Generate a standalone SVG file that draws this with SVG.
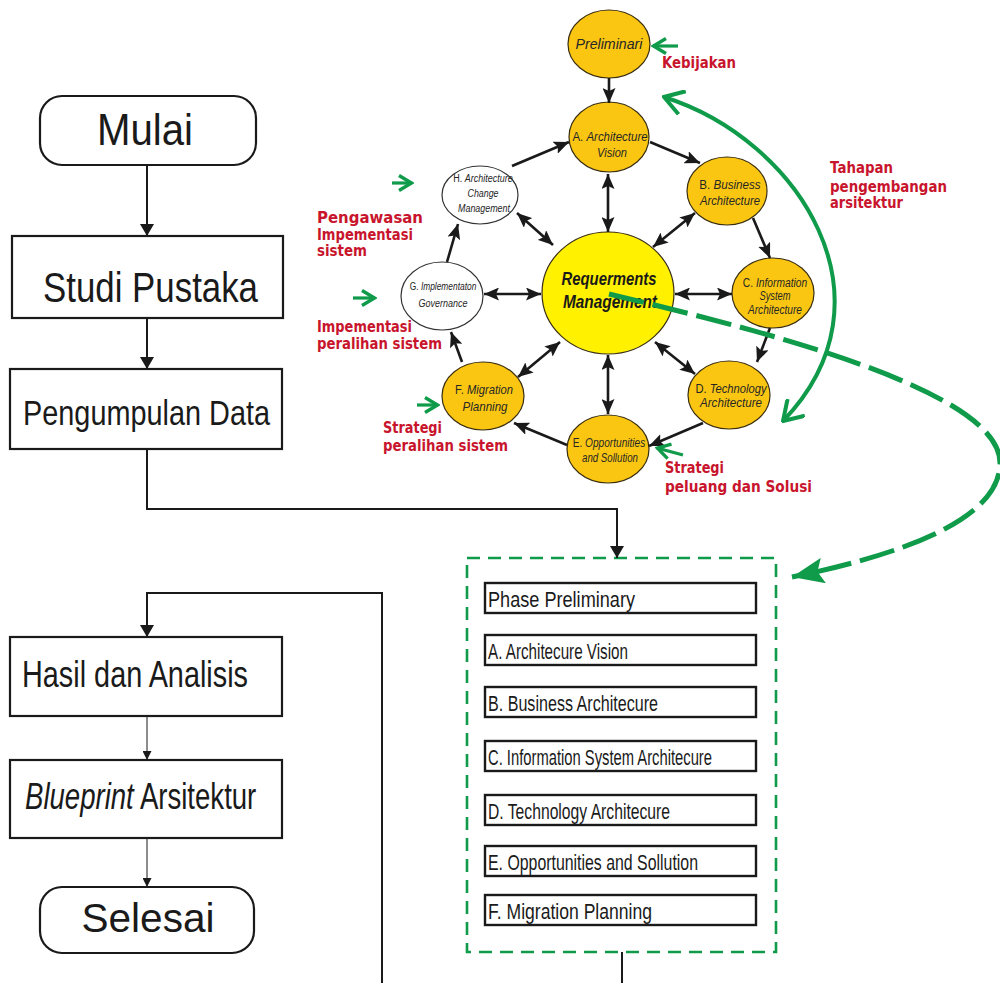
<svg xmlns="http://www.w3.org/2000/svg" width="1000" height="983" viewBox="0 0 1000 983">
  <style>
    .box { fill: #ffffff; stroke: #1a1a1a; stroke-width: 2.2; }
    .big { font-family: "Liberation Sans", Arial, sans-serif; fill: #1a1a1a; }
    .item { fill: #ffffff; stroke: #1a1a1a; stroke-width: 2.4; }
    .itemtxt { font-family: "Liberation Sans", Arial, sans-serif; font-size: 22px; fill: #1a1a1a; }
    .gold { fill: #fbc612; stroke: #3a2e10; stroke-width: 1.2; }
    .core { fill: #fff100; stroke: #3a2e10; stroke-width: 1.2; }
    .white { fill: #ffffff; stroke: #333333; stroke-width: 1.2; }
    .ntxt { font-family: "Liberation Sans", Arial, sans-serif; fill: #262626; text-anchor: middle; }
    .n13 { font-size: 13.5px; }
    .n12 { font-size: 12.5px; }
    .n11 { font-size: 11.5px; }
    .n14 { font-size: 14.5px; }
    .coretxt { font-size: 19px; font-weight: bold; fill: #1a1a1a; }
    .it { font-style: italic; }
    .red { font-family: "DejaVu Sans", "Liberation Sans", sans-serif; font-weight: bold; font-size: 15.5px; fill: #c8142c; }
    .flow { fill: none; stroke: #1a1a1a; stroke-width: 2; }
    .thin { fill: none; stroke: #1a1a1a; stroke-width: 1; }
    .ring { fill: none; stroke: #1a1a1a; stroke-width: 2.6; }
    .gsm { fill: none; stroke: #0f9b4a; stroke-width: 3.2; }
  </style>
  <defs>
    <marker id="tri" viewBox="0 0 12 14" refX="12" refY="7" markerWidth="12" markerHeight="14" markerUnits="userSpaceOnUse" orient="auto">
      <path d="M0,0 L12,7 L0,14 z" fill="#1a1a1a"/>
    </marker>
    <marker id="triS" viewBox="0 0 10 10" refX="10" refY="5" markerWidth="10" markerHeight="9" markerUnits="userSpaceOnUse" orient="auto">
      <path d="M0,0 L10,5 L0,10 z" fill="#1a1a1a"/>
    </marker>
    <marker id="ah" viewBox="0 0 15 13" refX="15" refY="6.5" markerWidth="15" markerHeight="13" markerUnits="userSpaceOnUse" orient="auto-start-reverse">
      <path d="M0,0 L15,6.5 L0,13 L3,6.5 z" fill="#1a1a1a"/>
    </marker>
    <marker id="chev" viewBox="0 0 16 18" refX="14" refY="9" markerWidth="16" markerHeight="18" markerUnits="userSpaceOnUse" orient="auto">
      <path d="M1,1.5 L13.5,9 L1,16.5" fill="none" stroke="#0f9b4a" stroke-width="3.4"/>
    </marker>
    <marker id="chevBig" viewBox="0 0 22 26" refX="20" refY="13" markerWidth="22" markerHeight="26" markerUnits="userSpaceOnUse" orient="auto-start-reverse">
      <path d="M1,1 L20,13 L1,25" fill="none" stroke="#0f9b4a" stroke-width="4"/>
    </marker>
    <marker id="gtri" viewBox="0 0 32 26" refX="32" refY="13" markerWidth="32" markerHeight="26" markerUnits="userSpaceOnUse" orient="auto">
      <path d="M0,0 L32,13 L0,26 L6,13 z" fill="#0f9b4a"/>
    </marker>
  </defs>

  <rect width="1000" height="983" fill="#ffffff"/>

  <!-- research flow, left column -->
  <g id="mulai">
    <rect class="box" x="40" y="96" width="216" height="69" rx="22"/>
    <text class="big" x="145" y="145" font-size="44" text-anchor="middle" textLength="96" lengthAdjust="spacingAndGlyphs">Mulai</text>
  </g>
  <g id="studi-pustaka">
    <rect class="box" x="12" y="236" width="271" height="82"/>
    <text class="big" x="43" y="302" font-size="42" textLength="215" lengthAdjust="spacingAndGlyphs">Studi Pustaka</text>
  </g>
  <g id="pengumpulan-data">
    <rect class="box" x="10" y="369" width="272" height="80"/>
    <text class="big" x="23" y="425" font-size="35" textLength="247" lengthAdjust="spacingAndGlyphs">Pengumpulan Data</text>
  </g>
  <g id="hasil-analisis">
    <rect class="box" x="10" y="637" width="272" height="79"/>
    <text class="big" x="22" y="687" font-size="37" textLength="226" lengthAdjust="spacingAndGlyphs">Hasil dan Analisis</text>
  </g>
  <g id="blueprint">
    <rect class="box" x="10" y="760" width="272" height="78"/>
    <text class="big" transform="translate(25,809) scale(0.766,1)" x="0" y="0" font-size="36"><tspan font-style="italic">Blueprint</tspan> Arsitektur</text>
  </g>
  <g id="selesai">
    <rect class="box" x="40" y="887" width="214" height="66" rx="22"/>
    <text class="big" x="148" y="932" font-size="40" text-anchor="middle" textLength="133" lengthAdjust="spacingAndGlyphs">Selesai</text>
  </g>

  <!-- architecture phases list -->
  <g id="phase-list">
    <rect x="467" y="558" width="309" height="394" fill="none" stroke="#0f9b4a" stroke-width="2.6" stroke-dasharray="13 8"/>
    <rect class="item" x="485" y="583" width="271" height="30"/>
    <text class="itemtxt" x="488" y="607" textLength="147" lengthAdjust="spacingAndGlyphs">Phase Preliminary</text>
    <rect class="item" x="485" y="635" width="271" height="30"/>
    <text class="itemtxt" x="488" y="659" textLength="140" lengthAdjust="spacingAndGlyphs">A. Architecure Vision</text>
    <rect class="item" x="485" y="687" width="271" height="30"/>
    <text class="itemtxt" x="488" y="711" textLength="170" lengthAdjust="spacingAndGlyphs">B. Business Architecure</text>
    <rect class="item" x="485" y="741" width="271" height="30"/>
    <text class="itemtxt" x="488" y="765" textLength="224" lengthAdjust="spacingAndGlyphs">C. Information System Architecure</text>
    <rect class="item" x="485" y="795" width="271" height="30"/>
    <text class="itemtxt" x="488" y="819" textLength="182" lengthAdjust="spacingAndGlyphs">D. Technology Architecure</text>
    <rect class="item" x="485" y="846" width="271" height="30"/>
    <text class="itemtxt" x="488" y="870" textLength="210" lengthAdjust="spacingAndGlyphs">E. Opportunities and Sollution</text>
    <rect class="item" x="485" y="895" width="271" height="30"/>
    <text class="itemtxt" x="488" y="919" textLength="164" lengthAdjust="spacingAndGlyphs">F. Migration Planning</text>
  </g>

  <!-- ADM cycle nodes -->
  <g id="preliminari">
    <ellipse class="gold" cx="609" cy="44" rx="41" ry="34"/>
    <text class="ntxt n14 it" x="609" y="49" textLength="67" lengthAdjust="spacingAndGlyphs">Preliminari</text>
  </g>
  <g id="node-a">
    <ellipse class="gold" cx="609" cy="137" rx="40" ry="35"/>
    <text class="ntxt n13" transform="translate(610,141) scale(0.85,1)">A. <tspan class="it">Architecture</tspan></text>
    <text class="ntxt n13 it" x="612" y="157" textLength="30" lengthAdjust="spacingAndGlyphs">Vision</text>
  </g>
  <g id="node-b">
    <ellipse class="gold" cx="727" cy="191" rx="40" ry="34"/>
    <text class="ntxt n13" transform="translate(730,189) scale(0.86,1)">B. <tspan class="it">Business</tspan></text>
    <text class="ntxt n13 it" x="730" y="205" textLength="60" lengthAdjust="spacingAndGlyphs">Architecture</text>
  </g>
  <g id="node-c">
    <ellipse class="gold" cx="773" cy="293" rx="41" ry="35"/>
    <text class="ntxt n12" transform="translate(775,287) scale(0.82,1)">C. <tspan class="it">Information</tspan></text>
    <text class="ntxt n12 it" x="775" y="300" textLength="31" lengthAdjust="spacingAndGlyphs">System</text>
    <text class="ntxt n12 it" x="775" y="314" textLength="54" lengthAdjust="spacingAndGlyphs">Architecture</text>
  </g>
  <g id="node-d">
    <ellipse class="gold" cx="729" cy="395" rx="41" ry="34"/>
    <text class="ntxt n13" transform="translate(731,393) scale(0.83,1)">D. <tspan class="it">Technology</tspan></text>
    <text class="ntxt n13 it" x="731" y="407" textLength="62" lengthAdjust="spacingAndGlyphs">Architecture</text>
  </g>
  <g id="node-e">
    <ellipse class="gold" cx="608" cy="449" rx="41" ry="34"/>
    <text class="ntxt n12" transform="translate(609,447) scale(0.81,1)">E. <tspan class="it">Opportunities</tspan></text>
    <text class="ntxt n12 it" x="610" y="462" textLength="56" lengthAdjust="spacingAndGlyphs">and Sollution</text>
  </g>
  <g id="node-f">
    <ellipse class="gold" cx="483" cy="396" rx="41" ry="34"/>
    <text class="ntxt n13" transform="translate(484,394) scale(0.83,1)">F. <tspan class="it">Migration</tspan></text>
    <text class="ntxt n13 it" x="485" y="411" textLength="45" lengthAdjust="spacingAndGlyphs">Planning</text>
  </g>
  <g id="node-g">
    <ellipse class="white" cx="442" cy="296" rx="41" ry="34"/>
    <text class="ntxt n11" transform="translate(443,290) scale(0.73,1)">G. <tspan class="it">Implementaton</tspan></text>
    <text class="ntxt n11 it" x="443" y="307" textLength="49" lengthAdjust="spacingAndGlyphs">Governance</text>
  </g>
  <g id="node-h">
    <ellipse class="white" cx="480" cy="195" rx="38" ry="29"/>
    <text class="ntxt n11" transform="translate(483,182) scale(0.78,1)">H. <tspan class="it">Architecture</tspan></text>
    <text class="ntxt n11 it" x="483" y="197" textLength="31" lengthAdjust="spacingAndGlyphs">Change</text>
    <text class="ntxt n11 it" x="484" y="212" textLength="52" lengthAdjust="spacingAndGlyphs">Management</text>
  </g>
  <g id="requirements">
    <ellipse class="core" cx="608" cy="293" rx="66" ry="61"/>
    <text class="ntxt coretxt it" x="609" y="285" textLength="95" lengthAdjust="spacingAndGlyphs">Requerments</text>
    <text class="ntxt coretxt it" x="610" y="308" textLength="94" lengthAdjust="spacingAndGlyphs">Management</text>
  </g>

  <!-- annotations -->
  <g id="labels">
    <text class="red" x="662" y="68" textLength="74" lengthAdjust="spacingAndGlyphs">Kebijakan</text>
    <text class="red" x="317" y="223" textLength="106" lengthAdjust="spacingAndGlyphs">Pengawasan</text>
    <text class="red" x="317" y="240" textLength="96" lengthAdjust="spacingAndGlyphs">Impementasi</text>
    <text class="red" x="317" y="256" textLength="50" lengthAdjust="spacingAndGlyphs">sistem</text>
    <text class="red" x="317" y="332" textLength="95" lengthAdjust="spacingAndGlyphs">Impementasi</text>
    <text class="red" x="317" y="349" textLength="125" lengthAdjust="spacingAndGlyphs">peralihan sistem</text>
    <text class="red" x="383" y="433" textLength="59" lengthAdjust="spacingAndGlyphs">Strategi</text>
    <text class="red" x="383" y="451" textLength="125" lengthAdjust="spacingAndGlyphs">peralihan sistem</text>
    <text class="red" x="665" y="473" textLength="59" lengthAdjust="spacingAndGlyphs">Strategi</text>
    <text class="red" x="665" y="492" textLength="147" lengthAdjust="spacingAndGlyphs">peluang dan Solusi</text>
    <text class="red" x="830" y="173" textLength="63" lengthAdjust="spacingAndGlyphs">Tahapan</text>
    <text class="red" x="830" y="192" textLength="117" lengthAdjust="spacingAndGlyphs">pengembangan</text>
    <text class="red" x="830" y="208" textLength="73" lengthAdjust="spacingAndGlyphs">arsitektur</text>
  </g>

  <g id="connectors">
    <!-- flowchart -->
    <line class="flow" x1="147" y1="165" x2="147" y2="236" marker-end="url(#tri)"/>
    <line class="flow" x1="147" y1="318" x2="147" y2="369" marker-end="url(#tri)"/>
    <polyline class="flow" points="147,449 147,509 617,509 617,558" marker-end="url(#tri)"/>
    <polyline class="flow" points="382,983 382,593 147,593 147,637" marker-end="url(#tri)"/>
    <line class="thin" x1="147" y1="716" x2="147" y2="760" marker-end="url(#triS)"/>
    <line class="thin" x1="147" y1="838" x2="147" y2="887" marker-end="url(#triS)"/>
    <line class="flow" x1="622" y1="952" x2="622" y2="983"/>

    <!-- cycle -->
    <line class="ring" x1="609" y1="78" x2="609" y2="103" marker-end="url(#ah)"/>
    <line class="ring" x1="650" y1="142" x2="700" y2="163" marker-end="url(#ah)"/>
    <line class="ring" x1="753" y1="218" x2="770" y2="258" marker-end="url(#ah)"/>
    <line class="ring" x1="770" y1="328" x2="757" y2="362" marker-end="url(#ah)"/>
    <line class="ring" x1="703" y1="423" x2="649" y2="446" marker-end="url(#ah)"/>
    <line class="ring" x1="567" y1="445" x2="514" y2="423" marker-end="url(#ah)"/>
    <line class="ring" x1="462" y1="362" x2="451" y2="332" marker-end="url(#ah)"/>
    <line class="ring" x1="447" y1="262" x2="458" y2="224" marker-end="url(#ah)"/>
    <line class="ring" x1="512" y1="166" x2="569" y2="142" marker-end="url(#ah)"/>

    <!-- links to requirements management -->
    <line class="ring" x1="608" y1="174" x2="608" y2="232" marker-start="url(#ah)" marker-end="url(#ah)"/>
    <line class="ring" x1="695" y1="213" x2="653" y2="247" marker-start="url(#ah)" marker-end="url(#ah)"/>
    <line class="ring" x1="732" y1="294" x2="675" y2="294" marker-start="url(#ah)" marker-end="url(#ah)"/>
    <line class="ring" x1="695" y1="374" x2="655" y2="342" marker-start="url(#ah)" marker-end="url(#ah)"/>
    <line class="ring" x1="608" y1="414" x2="608" y2="355" marker-start="url(#ah)" marker-end="url(#ah)"/>
    <line class="ring" x1="518" y1="377" x2="560" y2="342" marker-start="url(#ah)" marker-end="url(#ah)"/>
    <line class="ring" x1="484" y1="294" x2="541" y2="294" marker-start="url(#ah)" marker-end="url(#ah)"/>
    <line class="ring" x1="517" y1="213" x2="553" y2="245" marker-start="url(#ah)" marker-end="url(#ah)"/>

    <!-- green pointers -->
    <line class="gsm" x1="678" y1="46" x2="653" y2="46" marker-end="url(#chev)"/>
    <line class="gsm" x1="392" y1="183" x2="412" y2="183" marker-end="url(#chev)"/>
    <line class="gsm" x1="353" y1="298" x2="375" y2="298" marker-end="url(#chev)"/>
    <line class="gsm" x1="417" y1="405" x2="438" y2="405" marker-end="url(#chev)"/>
    <line class="gsm" x1="683" y1="455" x2="657" y2="448" marker-end="url(#chev)"/>

    <path d="M664,97 C800,140 900,300 783,421" fill="none" stroke="#0f9b4a" stroke-width="4" marker-start="url(#chevBig)" marker-end="url(#chevBig)"/>
    <path d="M609,294 C760,330 1000,390 1000,463 C1000,520 900,555 792,577" fill="none" stroke="#0f9b4a" stroke-width="5" stroke-dasharray="36 9" marker-end="url(#gtri)"/>
  </g>
</svg>
